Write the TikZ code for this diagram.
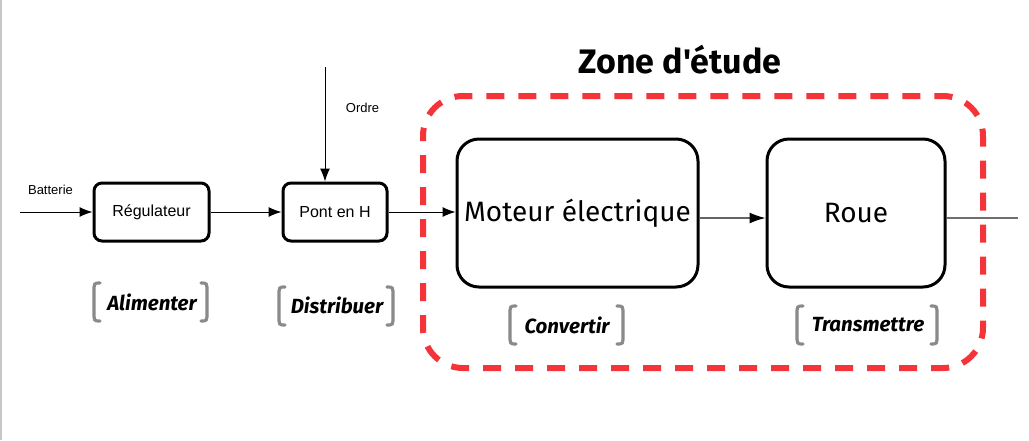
\documentclass[tikz,border=0pt]{standalone}
\usepackage{fontspec}
\setmainfont{Liberation Sans}
\newfontfamily\comicfont{Fira Sans}
\usetikzlibrary{arrows.meta}
\definecolor{zonered}{RGB}{245,52,58}
\definecolor{brgray}{RGB}{138,138,138}
\definecolor{midgray}{RGB}{100,100,100}
\definecolor{outgray}{RGB}{110,110,110}
\newcommand{\gbrack}[4]{% x1 x2 ytop ybot
  \draw[brgray,line width=3.2pt,line cap=round]
    (#1+6,#3) .. controls (#1,#3) .. (#1,#3+9) -- (#1,#4-9) .. controls (#1,#4) .. (#1+6,#4);
  \draw[brgray,line width=3.2pt,line cap=round]
    (#2-6,#3) .. controls (#2,#3) .. (#2,#3+9) -- (#2,#4-9) .. controls (#2,#4) .. (#2-6,#4);
}
\begin{document}
\begin{tikzpicture}[x=1pt,y=-1pt,
  smallbox/.style={draw,line width=3pt,rounded corners=8pt,minimum height=58pt,inner sep=0pt,
    font=\fontsize{16}{19}\selectfont},
  bigbox/.style={draw,line width=3pt,rounded corners=22pt,minimum height=148pt,inner sep=0pt,
    font=\comicfont\fontsize{28}{32}\selectfont},
  flow/.style={line width=1pt,-{Latex[length=13pt,width=10pt,color=black]}},
  smalllab/.style={font=\fontsize{13}{15}\selectfont,inner sep=0pt},
  verb/.style={font=\comicfont\bfseries\itshape\fontsize{20.5}{24}\selectfont,inner sep=0pt}
]
\useasboundingbox (0,0) rectangle (1029,440);
\fill[white] (0,0) rectangle (1029,440);
\draw[gray!45,line width=2pt] (1,0) -- (1,440);

% dashed zone
\draw[zonered,line width=6pt,dash pattern=on 18pt off 14pt,dash phase=13pt,rounded corners=40pt]
  (423,96) rectangle (983,368);
\node[font=\comicfont\bfseries\fontsize{34}{40}\selectfont,inner sep=0pt] (zone) at (680,60) {Zone d'étude};

% boxes
\node[smallbox,minimum width=115pt] (reg) at (151.5,212) {Régulateur};
\node[smallbox,minimum width=104pt] (pont) at (335,212) {Pont en H};
\node[bigbox,minimum width=241pt] (mot) at (577.5,213) {Moteur électrique};
\node[bigbox,minimum width=178pt] (roue) at (856,213) {Roue};

% connectors
\coordinate (bat) at (20,212);
\coordinate (ord) at (325,67);
\coordinate (out) at (1018,218);
\draw[flow] (bat) -- (reg.west);
\draw[flow] (reg.east) -- (pont.west);
\draw[flow] (ord) -- (ord |- pont.north);
\draw[flow] (pont.east) -- (pont.east -| mot.west);
\draw[flow,draw=midgray,line width=1.3pt,-{Latex[length=16pt,width=11pt,color=black]}] ([yshift=-5pt]mot.east) -- ([yshift=-5pt]roue.west);
\draw[outgray,line width=1.5pt] ([yshift=-5pt]roue.east) -- (out);

\node[smalllab] (batlab) at (50.5,190) {Batterie};
\node[smalllab] (ordlab) at (362.5,108) {Ordre};

% function labels
\node[verb] (ali) at (152,302) {Alimenter};
\node[verb] (dis) at (337,305) {Distribuer};
\node[verb] (con) at (567,325) {Convertir};
\node[verb] (tra) at (868,325) {Transmettre};
\gbrack{94}{207}{283}{321}
\gbrack{279}{393}{287}{325}
\gbrack{510}{623}{306}{344}
\gbrack{797}{937}{306}{344}
\end{tikzpicture}
\end{document}
